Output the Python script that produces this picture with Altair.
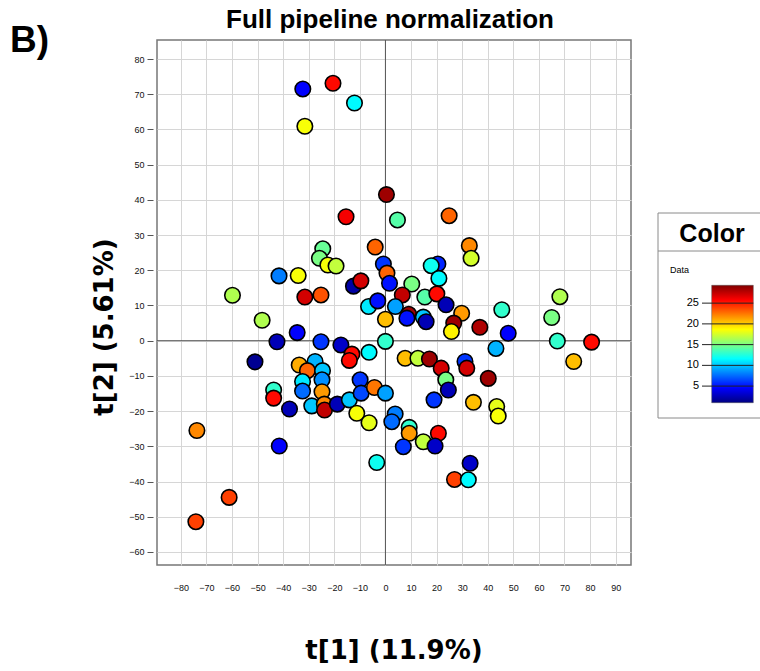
import altair as alt
import pandas as pd

# ---- data (t[1], t[2], colour value) ----
t1 = [-32.3, -20.5, -12.1, -31.5, 0.4, -15.4, 4.7, 24.9, -24.5, -25.8, -22.5, -19.3, -4.0,
      -41.6, -34.1, -59.8, -31.5, -25.2, -12.5, -9.6, -48.2, -34.5, -42.4, -25.2, -17.4,
      -6.6, -3.0, 0.0, 0.0, -0.8, 0.6, 1.6, 32.8, 33.5, 20.5, 17.9, 20.9, 10.3, 6.6, 15.4,
      20.1, 23.7, 3.9, 9.1, 8.4, 14.8, 15.9, 29.8, 26.7, 25.8, 36.9, 48.0, 45.5, 43.2, 68.2,
      65.0, 67.2, 80.6, 73.6, -51.0, -73.7, -33.7, -27.5, -30.5, -24.6, -32.4, -24.8, -32.4,
      -43.7, -43.7, -24.8, -37.5, -28.8, -23.9, -23.8, -18.8, -14.1, -9.9, -9.5, -4.3, 0.0,
      -11.2, -6.4, -41.5, -6.4, -13.1, -14.1, 7.7, 12.7, 17.2, 21.8, 23.6, 24.6, 19.0, 31.1,
      31.8, 40.2, 34.4, 43.5, 44.1, 3.8, 2.5, 9.3, 9.3, 20.7, 14.8, 7.0, 19.4, -3.4, 33.1,
      27.0, 32.4, -61.1, -74.1]
t2 = [71.5, 73.1, 67.5, 60.9, 41.5, 35.2, 34.3, 35.5, 26.1, 23.4, 21.5, 21.2, 26.6,
      18.4, 18.5, 12.9, 12.4, 13.0, 15.5, 17.0, 5.8, 2.3, -0.3, -0.3, -1.2,
      9.7, 11.3, 6.1, -0.2, 21.8, 19.2, 16.3, 27.0, 23.4, 21.8, 21.3, 17.7, 16.1, 13.0, 12.4,
      13.3, 10.2, 9.7, 7.5, 6.4, 6.7, 5.4, 7.8, 5.0, 2.6, 3.8, 2.1, 8.8, -2.2, 12.5,
      6.6, -0.1, -0.4, -5.9, -6.0, -25.5, -6.9, -5.9, -8.5, -8.5, -11.6, -11.1, -14.3,
      -14.0, -16.3, -14.5, -19.4, -18.5, -18.0, -19.7, -18.0, -16.8, -11.1, -14.9, -13.3, -14.9,
      -20.6, -23.3, -29.9, -3.3, -3.8, -5.6, -5.0, -5.0, -5.2, -7.8, -11.1, -14.0, -16.8, -5.9,
      -7.8, -10.7, -17.5, -18.7, -21.4, -20.8, -23.0, -24.6, -26.3, -26.3, -28.7, -30.1, -29.9, -34.6, -34.8,
      -39.4, -39.5, -44.5, -51.4]
value = [4.5, 25.5, 11.5, 18.5, 28.5, 26.0, 14.0, 23.0, 14.5, 15.0, 18.5, 17.0, 23.0,
         8.0, 18.5, 16.5, 27.0, 23.5, 2.0, 27.0, 16.5, 4.5, 2.5, 6.0, 3.0,
         11.0, 5.0, 20.5, 13.0, 6.0, 23.0, 5.0, 22.0, 17.5, 5.5, 12.0, 11.5, 15.0, 27.5, 14.0,
         25.5, 2.5, 9.0, 28.5, 5.0, 10.0, 2.5, 21.5, 28.5, 19.0, 28.0, 4.5, 13.0, 9.5, 16.5,
         15.0, 13.0, 25.5, 20.5, 1.5, 22.0, 21.0, 9.5, 23.0, 10.0, 11.0, 8.5, 7.5,
         13.0, 25.5, 21.5, 2.5, 10.0, 22.0, 27.5, 2.5, 10.0, 6.0, 6.5, 22.5, 9.0,
         18.5, 18.0, 4.5, 11.5, 25.5, 25.5, 20.5, 17.0, 28.5, 27.0, 15.0, 2.5, 6.0, 6.0,
         27.0, 28.5, 20.5, 18.0, 18.5, 8.0, 7.5, 13.0, 21.5, 25.5, 17.0, 6.0, 3.0, 12.0, 3.0,
         24.0, 11.5, 24.0, 24.0]

x_ticks = list(range(-80, 91, 10))
y_ticks = list(range(-60, 81, 10))
legend_ticks = [5, 10, 15, 20, 25]

df = pd.DataFrame({"t1": t1, "t2": t2, "v": value})

# ---- scales ----
X_DOMAIN = [-89.3, 96.0]
Y_DOMAIN = [-63.7, 85.4]
C_LO, C_HI = 1.0, 29.3
jet_offsets = [0.0, 0.125, 0.375, 0.625, 0.875, 1.0]
jet_colors = ["#000080", "#0000ff", "#00ffff", "#ffff00", "#ff0000", "#800000"]
c_domain = [C_LO + o * (C_HI - C_LO) for o in jet_offsets]
color_scale = alt.Scale(domain=c_domain, range=jet_colors, interpolate="rgb")

xs = alt.Scale(domain=X_DOMAIN, nice=False, zero=False)
ys = alt.Scale(domain=Y_DOMAIN, nice=False, zero=False)

ax_x = alt.Axis(values=x_ticks, title=None, grid=True, gridColor="#d6d6d6", gridWidth=1,
                ticks=False, domain=False, labelFontSize=9, labelColor="#111",
                labelFont="Liberation Sans", labelPadding=18)
ax_y = alt.Axis(values=y_ticks, title=None, grid=True, gridColor="#d6d6d6", gridWidth=1,
                ticks=True, tickSize=6, tickColor="#555", domain=False, labelFontSize=9,
                labelColor="#111", labelFont="Liberation Sans", labelPadding=3, offset=4)

zero_df = pd.DataFrame({"z": [0]})
vrule = alt.Chart(zero_df).mark_rule(color="#555", strokeWidth=1).encode(
    x=alt.X("z:Q", scale=xs, axis=ax_x))
hrule = alt.Chart(zero_df).mark_rule(color="#555", strokeWidth=1).encode(
    y=alt.Y("z:Q", scale=ys, axis=ax_y))

points = alt.Chart(df).mark_circle(size=240, opacity=1, stroke="black", strokeWidth=1.6).encode(
    x=alt.X("t1:Q", scale=xs, axis=ax_x),
    y=alt.Y("t2:Q", scale=ys, axis=ax_y),
    color=alt.Color("v:Q", scale=color_scale, legend=None),
)

main = alt.layer(vrule, hrule, points)

# ---- hand-made colour legend (plot-relative pixel placement) ----
one = pd.DataFrame({"a": [0]})
leg_ys = alt.Scale(domain=[C_LO, C_HI], range=[362.7, 245.3], nice=False, zero=False)

box = alt.Chart(one).mark_rect(fill="white", stroke="#8a8a8a", strokeWidth=1).encode(
    x=alt.value(501), x2=alt.value(640), y=alt.value(173), y2=alt.value(378))
sep = alt.Chart(one).mark_rule(color="#8a8a8a", strokeWidth=1).encode(
    x=alt.value(501), x2=alt.value(640), y=alt.value(211))
head = alt.Chart(one).mark_text(text="Color", font="Liberation Sans", fontSize=25,
                                fontWeight="bold", align="center", baseline="alphabetic").encode(
    x=alt.value(555), y=alt.value(202))
sub = alt.Chart(one).mark_text(text="Data", font="Liberation Sans", fontSize=9,
                               align="left", baseline="alphabetic").encode(
    x=alt.value(513), y=alt.value(233))

grad_fill = alt.LinearGradient(
    gradient="linear",
    stops=[alt.GradientStop(color=c, offset=o) for c, o in zip(jet_colors, jet_offsets)],
    x1=0, x2=0, y1=1, y2=0)
grad_df = pd.DataFrame({"lo": [C_LO], "hi": [C_HI]})
grad = alt.Chart(grad_df).mark_rect(fill=grad_fill, stroke="#555", strokeWidth=0.5).encode(
    x=alt.value(554.7), x2=alt.value(596.3),
    y=alt.Y("lo:Q", scale=leg_ys, axis=None), y2="hi:Q")
tick_df = pd.DataFrame({"t": legend_ticks})
lticks = alt.Chart(tick_df).mark_rule(color="#222", strokeWidth=1).encode(
    x=alt.value(545), x2=alt.value(596.3), y=alt.Y("t:Q", scale=leg_ys, axis=None))
llabels = alt.Chart(tick_df).mark_text(font="Liberation Sans", fontSize=11, align="right",
                                       baseline="middle").encode(
    x=alt.value(542), y=alt.Y("t:Q", scale=leg_ys, axis=None), text="t:Q")

legend = alt.layer(box, sep, head, sub, grad, lticks, llabels)

# ---- titles ----
title = alt.Chart(one).mark_text(text="Full pipeline normalization", font="Liberation Sans",
                                 fontSize=26, fontWeight="bold", align="center",
                                 baseline="alphabetic").encode(x=alt.value(233), y=alt.value(-12))
panel = alt.Chart(one).mark_text(text="B)", font="Liberation Sans", fontSize=37,
                                 fontWeight="bold", align="left",
                                 baseline="alphabetic").encode(x=alt.value(-147), y=alt.value(12))
xtitle = alt.Chart(one).mark_text(text="t[1] (11.9%)", font="DejaVu Sans", fontSize=26,
                                  fontWeight="bold", align="center",
                                  baseline="alphabetic").encode(x=alt.value(237), y=alt.value(619))
ytitle = alt.Chart(one).mark_text(text="t[2] (5.61%)", font="DejaVu Sans", fontSize=26,
                                  fontWeight="bold", align="center", angle=270,
                                  baseline="middle").encode(x=alt.value(-52), y=alt.value(287))

texts = alt.layer(title, panel, xtitle, ytitle)

chart = alt.layer(main, legend, texts).resolve_scale(y="independent").properties(
    width=474, height=525,
    autosize=alt.AutoSizeParams(type="none"),
    padding={"left": 157, "top": 40, "right": 129, "bottom": 106},
).configure_view(stroke="#777", strokeWidth=1.5)

chart.save("out.html", embed_options={"renderer": "svg", "actions": False})
